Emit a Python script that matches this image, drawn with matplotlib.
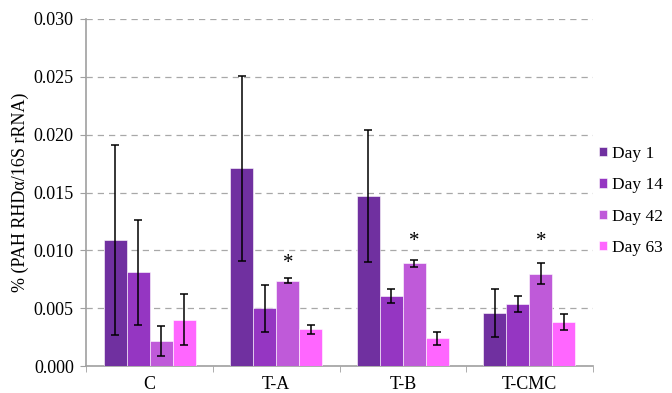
import matplotlib
matplotlib.use("Agg")
import matplotlib.pyplot as plt
import numpy as np

categories = ["C", "T-A", "T-B", "T-CMC"]
series_names = ["Day 1", "Day 14", "Day 42", "Day 63"]
values = {
    "Day 1":  [0.0109, 0.0171, 0.0147, 0.0046],
    "Day 14": [0.0081, 0.0050, 0.0061, 0.0054],
    "Day 42": [0.0022, 0.0074, 0.0089, 0.0080],
    "Day 63": [0.0040, 0.0032, 0.0024, 0.0038],
}
errors = {
    "Day 1":  [0.0082, 0.0080, 0.0057, 0.0021],
    "Day 14": [0.0045, 0.0020, 0.0006, 0.0007],
    "Day 42": [0.0013, 0.0002, 0.0003, 0.0009],
    "Day 63": [0.0022, 0.0004, 0.0006, 0.0007],
}
star_categories = ["T-A", "T-B", "T-CMC"]
star_heights = [0.0089, 0.0108, 0.0108]
colors = ["#7030A0", "#9536C2", "#BF5AD9", "#FF66FF"]
yticks = [0.000, 0.005, 0.010, 0.015, 0.020, 0.025, 0.030]

plt.rcParams['font.family'] = ['Liberation Serif', 'DejaVu Serif']
fig = plt.figure(figsize=(6.72, 3.93), dpi=100)
ax = fig.add_axes([0.1285, 0.068, 0.7535, 0.884])

x = np.arange(len(categories))
bw = 0.182
for i, name in enumerate(series_names):
    pos = x + (i - 1.5) * bw
    ax.bar(pos, values[name], width=bw, color=colors[i], edgecolor="white",
           linewidth=0.4, label=name, zorder=3)
    ax.errorbar(pos, values[name], yerr=errors[name], fmt="none", ecolor="black",
                elinewidth=1.1, capsize=2.8, capthick=1.1, zorder=4)

for cat, h in zip(star_categories, star_heights):
    xi = categories.index(cat) + 0.5 * bw
    ax.text(xi, h, "*", ha="center", va="center", fontsize=15, zorder=5)

ax.set_xlim(-0.5, len(categories) - 0.5)
ax.set_ylim(0, 0.030)
ax.set_yticks(yticks)
ax.set_yticklabels([f"{t:.3f}" for t in yticks], fontsize=13)
ax.set_xticks(x)
ax.set_xticklabels(categories, fontsize=13)
ax.set_xticks(np.arange(-0.5, len(categories)), minor=True)
ax.tick_params(axis="x", which="major", length=0, pad=7)
ax.tick_params(axis="x", which="minor", length=4, color="#A0A0A0", direction="out")
ax.tick_params(axis="y", length=4, color="#A0A0A0", direction="out", pad=5)
ax.yaxis.grid(True, linestyle=(0, (5, 4)), color="#A8A8A8", linewidth=0.9, zorder=0)
ax.set_axisbelow(True)
for s in ["top", "right"]:
    ax.spines[s].set_visible(False)
for s in ["left", "bottom"]:
    ax.spines[s].set_color("#A0A0A0")
    ax.spines[s].set_linewidth(1.2)

ax.set_ylabel("% (PAH RHD\u03b1/16S rRNA)", fontsize=13, labelpad=3)

leg = ax.legend(loc="center left", bbox_to_anchor=(1.0, 0.476), frameon=False,
                fontsize=12.5, handlelength=0.45, handleheight=0.45,
                handletextpad=0.3, labelspacing=0.88, borderaxespad=0,
                borderpad=0.35)

fig.savefig("out.png", dpi=100)
